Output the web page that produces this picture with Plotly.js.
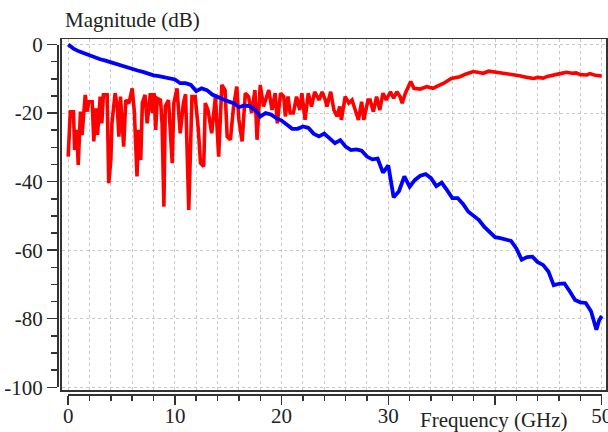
<!DOCTYPE html>
<html>
<head>
<meta charset="utf-8">
<script src="https://cdn.plot.ly/plotly-3.0.1.min.js"></script>
<style>html,body{margin:0;padding:0;background:#fff}#chart{width:608px;height:432px}</style>
</head>
<body>
<div id="chart"></div>
<script>
// Blue trace (frequency in GHz, magnitude in dB)
var blueFreq = [0,0.5,1,1.5,2,2.5,3,3.5,4,4.5,5,5.5,6,6.5,7,7.5,8,8.5,9,9.5,10,10.5,11,11.5,12,12.5,13,13.5,14,14.5,15,15.5,16,16.5,17,17.5,18,18.5,19,19.5,20,20.5,21,21.5,22,22.5,23,23.5,24,24.5,25,25.5,26,26.5,27,27.5,28,28.5,29,29.5,30,30.5,31,31.5,32,32.5,33,33.5,34,34.5,35,35.5,36,36.5,37,37.5,38,38.5,39,39.5,40,40.5,41,41.5,42,42.5,43,43.5,44,44.5,45,45.5,46,46.5,47,47.5,48,48.5,49,49.25,49.5,49.75,50];
var blueMag = [0,-1.2,-2.0,-2.6,-3.2,-3.7,-4.3,-4.7,-5.2,-5.7,-6.2,-6.8,-7.3,-7.6,-8.0,-8.6,-9.0,-9.2,-9.6,-9.8,-10.2,-11.3,-11.3,-11.8,-13.6,-12.8,-13.3,-14.6,-15.4,-16.0,-16.6,-17.1,-18.3,-17.8,-18.0,-19.0,-21.0,-20.0,-20.4,-21.5,-22.2,-23.5,-24.6,-24.6,-23.9,-24.3,-26.0,-26.8,-26.0,-27.4,-28.8,-27.9,-29.8,-30.8,-30.6,-31.0,-32.7,-33.5,-33.3,-37.4,-35.3,-44.6,-42.8,-38.5,-41.5,-39.5,-38.3,-37.8,-39.0,-41.3,-40.3,-42.5,-44.8,-44.8,-46.5,-48.8,-50.0,-51.2,-53.2,-54.8,-56.2,-56.5,-56.8,-57.3,-59.5,-62.8,-62.0,-61.9,-63.5,-64.3,-66.2,-70.2,-69.8,-69.7,-72.0,-74.5,-75.2,-75.4,-77.8,-81.0,-83.2,-80.5,-79.2];

// Red trace (frequency in GHz, magnitude in dB)
var redFreq = [0,0.06,0.2,0.5,0.6,0.8,0.94,1.15,1.3,1.6,1.8,1.9,2.25,2.4,2.6,2.75,3.0,3.15,3.3,3.65,3.8,4.0,4.1,4.4,4.6,4.75,4.9,5.2,5.4,5.7,6.0,6.2,6.45,6.6,6.8,6.95,7.2,7.4,7.55,7.7,7.9,8.05,8.2,8.35,8.65,8.8,8.97,9.1,9.4,9.75,9.9,10.2,10.5,10.8,11.0,11.3,11.6,11.9,12.2,12.4,12.7,12.85,13.1,13.45,13.8,14.1,14.4,14.7,14.9,15.2,15.5,15.8,16.0,16.3,16.6,16.9,17.2,17.5,17.7,18.0,18.3,18.8,19.1,19.4,19.6,19.9,20.2,20.35,20.6,20.8,21.1,21.4,21.7,21.9,22.2,22.5,22.8,23.1,23.5,23.8,24.1,24.25,24.6,24.9,25.2,25.45,25.6,25.96,26.3,26.6,26.9,27.2,27.5,27.7,28.1,28.3,28.6,28.9,29.2,29.5,29.8,30.2,30.5,30.8,31.1,31.3,31.6,32.1,32.4,33.0,33.6,34.2,34.5,35.2,35.9,36.7,37.3,37.95,38.5,38.9,39.4,39.9,40.4,40.8,41.3,41.7,42.3,43.0,43.6,44.0,44.5,44.9,45.5,46.1,46.7,47.2,47.6,48.0,48.6,48.9,49.4,49.8,50];
var redMag = [-32.7,-28.3,-19.6,-19.6,-30.8,-24.9,-35.1,-19.6,-26.4,-14.7,-19.6,-16.7,-16.7,-28.3,-18.6,-26.4,-15.2,-23.0,-14.7,-14.7,-40.5,-33.7,-23.0,-14.2,-18.1,-26.9,-15.2,-29.8,-16.2,-17.1,-12.8,-19.6,-38.5,-24.9,-33.7,-17.1,-14.7,-23.0,-17.1,-14.2,-20.0,-14.2,-24.9,-15.7,-16.2,-23.0,-47.3,-18.1,-16.2,-34.6,-17.1,-12.8,-25.9,-17.1,-14.5,-48.3,-15.2,-15.2,-24.9,-34.6,-35.6,-17.1,-19.1,-25.9,-15.2,-32.7,-11.8,-13.3,-26.9,-27.8,-18.1,-12.3,-22.0,-28.3,-14.2,-15.2,-20.0,-13.3,-27.8,-11.8,-18.1,-13.3,-19.1,-14.2,-23.0,-14.2,-15.2,-21.0,-15.2,-20.0,-20.0,-15.2,-19.1,-14.2,-22.0,-14.2,-18.1,-13.8,-16.2,-13.8,-16.2,-18.1,-13.8,-19.1,-21.0,-18.1,-22.0,-15.2,-17.1,-16.2,-19.1,-22.0,-16.7,-22.0,-16.2,-16.2,-19.6,-15.2,-19.1,-14.2,-16.2,-13.8,-15.7,-13.8,-15.2,-17.1,-14.2,-10.8,-12.8,-13.0,-12.3,-12.8,-12.3,-11.3,-9.9,-9.4,-8.6,-7.9,-8.2,-8.4,-7.8,-8.0,-8.2,-8.4,-8.6,-8.9,-9.1,-9.6,-9.9,-9.6,-9.8,-9.3,-9.0,-8.5,-8.1,-8.4,-8.3,-8.8,-8.9,-8.5,-9.0,-9.2,-9.2];

// Tick labels
var xTickVals = [0,10,20,30,40,50];
var xTickText = ['0','10','20','30','','50'];
var yTickVals = [0,-20,-40,-60,-80,-100];
var yTickText = ['0','-20','-40','-60','-80','-100'];

var serif = 'Liberation Serif, Times New Roman, serif';
var txt = '#222';

var traces = [
  {x: redFreq, y: redMag, type: 'scatter', mode: 'lines', line: {color: '#ff0000', width: 3.6}, hoverinfo: 'skip', xaxis: 'x', yaxis: 'y'},
  {x: blueFreq, y: blueMag, type: 'scatter', mode: 'lines', line: {color: '#0000ff', width: 3.8}, hoverinfo: 'skip', xaxis: 'x', yaxis: 'y'},
  {x: [], y: [], type: 'scatter', mode: 'lines', xaxis: 'x2', yaxis: 'y2', hoverinfo: 'skip'}
];

var layout = {
  width: 608, height: 432,
  margin: {l: 57, r: 2, t: 39, b: 38, pad: 0},
  paper_bgcolor: '#fff', plot_bgcolor: 'rgba(0,0,0,0)',
  showlegend: false,
  font: {family: serif, size: 21, color: txt},
  xaxis: {
    domain: [0.0091, 1], range: [-0.58, 50.40],
    tickmode: 'linear', tick0: 0, dtick: 2,
    showticklabels: false, ticks: '',
    showgrid: true, gridcolor: '#c8c8c8', griddash: 'dot', gridwidth: 1,
    zeroline: false, showline: true, mirror: true, linecolor: '#333', linewidth: 1.5
  },
  yaxis: {
    domain: [0.0099, 1], range: [-100.93, 1.6],
    tickmode: 'linear', tick0: 0, dtick: 20,
    showticklabels: false, ticks: '',
    showgrid: true, gridcolor: '#c8c8c8', griddash: 'dot', gridwidth: 1,
    zeroline: false, showline: true, mirror: true, linecolor: '#333', linewidth: 1.5
  },
  xaxis2: {
    domain: [0.0204, 0.99217], range: [0, 50],
    anchor: 'free', position: 0,
    tickmode: 'array', tickvals: xTickVals, ticktext: xTickText,
    ticks: 'outside', ticklen: 9, tickwidth: 1.5, tickcolor: '#333',
    ticklabelstandoff: -7, ticklabeloverflow: 'allow',
    minor: {tickmode: 'linear', tick0: 0, dtick: 2, ticks: 'outside', ticklen: 5, tickwidth: 1.5, tickcolor: '#333', showgrid: false},
    showline: true, linecolor: '#333', linewidth: 1.5,
    showgrid: false, zeroline: false,
    tickfont: {family: serif, size: 21, color: txt}
  },
  yaxis2: {
    domain: [0.0189, 0.9845], range: [-100, 0],
    anchor: 'free', position: 0,
    tickmode: 'array', tickvals: yTickVals, ticktext: yTickText,
    ticks: 'outside', ticklen: 10, tickwidth: 1.5, tickcolor: '#333',
    ticklabeloverflow: 'allow',
    minor: {tickmode: 'linear', tick0: 0, dtick: 5, ticks: 'outside', ticklen: 6, tickwidth: 1.5, tickcolor: '#333', showgrid: false},
    showline: true, linecolor: '#333', linewidth: 1.5,
    showgrid: false, zeroline: false,
    tickfont: {family: serif, size: 21, color: txt}
  },
  annotations: [
    {text: 'Magnitude (dB)', xref: 'paper', yref: 'paper', x: 0.0109, y: 1.0535, xanchor: 'left', yanchor: 'middle', showarrow: false, font: {family: serif, size: 21, color: txt}},
    {text: 'Frequency (GHz)', xref: 'paper', yref: 'paper', x: 0.6576, y: -0.0732, xanchor: 'left', yanchor: 'middle', showarrow: false, font: {family: serif, size: 21, color: txt}}
  ]
};

Plotly.newPlot('chart', traces, layout, {staticPlot: true, displayModeBar: false});
</script>
</body>
</html>
